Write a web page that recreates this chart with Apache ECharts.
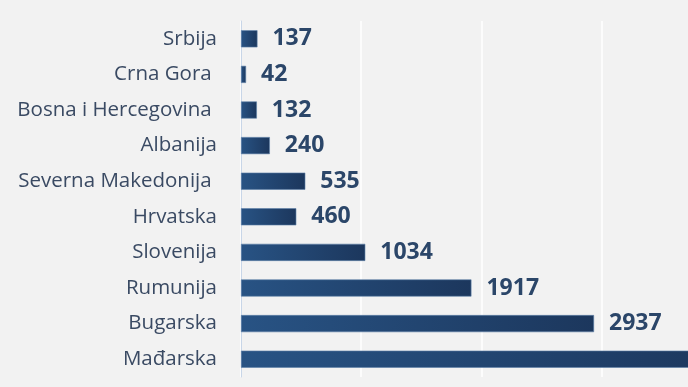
<!DOCTYPE html>
<html>
<head>
<meta charset="utf-8">
<script src="https://cdn.jsdelivr.net/npm/echarts@6/dist/echarts.min.js"></script>
<style>
html,body{margin:0;padding:0;background:#f2f2f2;overflow:hidden;width:688px;height:387px;}
#c{width:900px;height:387px;}
</style>
</head>
<body>
<div id="c"></div>
<script>
const categories = ["Srbija", "Crna Gora ", "Bosna i Hercegovina ", "Albanija", "Severna Makedonija ", "Hrvatska", "Slovenija", "Rumunija", "Bugarska", "Mađarska"];
const values = [137, 42, 132, 240, 535, 460, 1034, 1917, 2937, 4100];

const chart = echarts.init(document.getElementById('c'));
chart.setOption({
  backgroundColor: '#f2f2f2',
  animation: false,
  grid: { left: 241, right: 58, top: 21, bottom: 10, containLabel: false },
  xAxis: {
    type: 'value', min: 0, max: 5000, interval: 1000,
    axisLabel: { show: false }, axisLine: { show: false }, axisTick: { show: false },
    splitLine: { show: true, lineStyle: { color: '#ffffff', width: 1.5 } }
  },
  yAxis: {
    type: 'category', data: categories, inverse: true,
    axisLine: { show: true, lineStyle: { color: '#c8d6e8', width: 1 } },
    axisTick: { show: false },
    axisLabel: { margin: 24, fontFamily: 'Open Sans', fontSize: 20.5, color: '#3a4a63' }
  },
  series: [{
    type: 'bar', data: values, barWidth: '48%',
    itemStyle: {
      color: new echarts.graphic.LinearGradient(0, 0, 1, 0, [
        { offset: 0, color: '#285384' },
        { offset: 1, color: '#1c375d' }
      ]),
      borderColor: '#5d7fa8', borderWidth: 0.6
    },
    label: {
      show: true, position: 'right', distance: 15,
      fontFamily: 'Open Sans', fontWeight: 'bold', fontSize: 23, color: '#2b4669'
    }
  }]
});
</script>
</body>
</html>
